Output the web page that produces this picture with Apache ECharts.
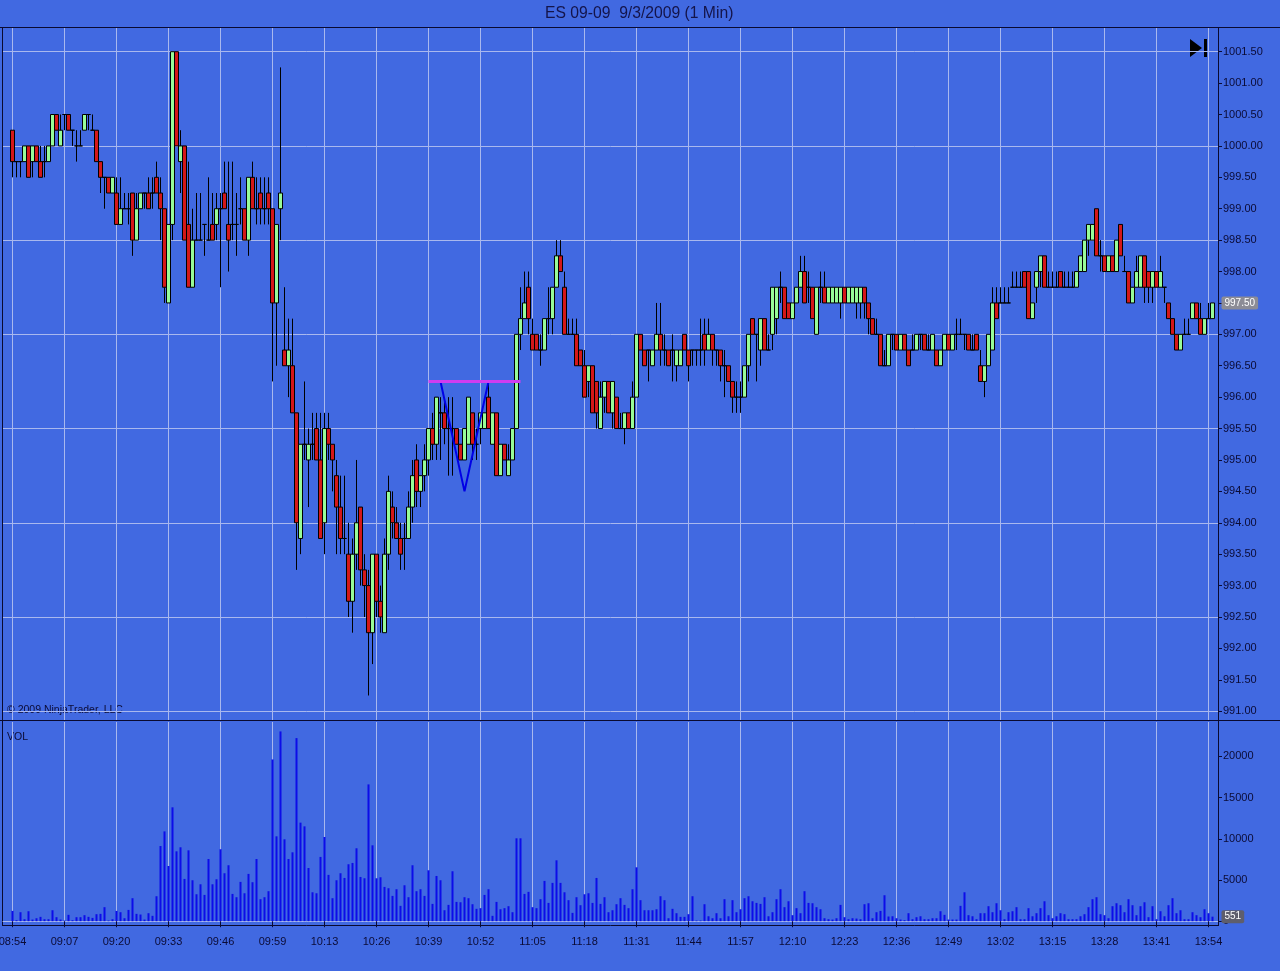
<!DOCTYPE html>
<html><head><meta charset="utf-8">
<script src="https://cdn.jsdelivr.net/npm/echarts/dist/echarts.min.js"></script>
<style>html,body{margin:0;padding:0;background:#4169E1}#c{width:1280px;height:971px}</style>
</head><body><div id="c"></div>
<script>
const titleText = 'ES 09-09  9/3/2009 (1 Min)';
const tickLabels = ['08:54','09:07','09:20','09:33','09:46','09:59','10:13','10:26','10:39','10:52','11:05','11:18','11:31','11:44','11:57','12:10','12:23','12:36','12:49','13:02','13:15','13:28','13:41','13:54'];
const opens = [
1000.25,999.75,999.75,999.75,1000,999.75,1000,999.75,999.75,999.75,
1000,1000.5,1000,1000.5,1000.5,1000.25,1000,1000,1000.25,1000.5,
1000.25,1000.25,999.75,999.5,999.5,999.25,999.25,998.75,999,999,
999.25,998.5,999,999.25,999.25,999.25,999.5,999.25,999,997.5,
998.75,1001.5,999.75,1000,998.75,997.75,998.5,998.5,998.75,998.5,
998.75,998.75,999,999.25,998.75,998.75,998.75,999,999,998.5,
999.5,999,999.25,999,999.25,999,997.5,999,996.75,996.5,
996.5,995.75,993.75,995.25,995,995.25,995.5,995,994,995.5,
995.25,994.75,994.25,993.75,993.5,992.75,993.5,994.25,993.25,993,
992.25,993.5,992.75,992.25,993.5,994.25,994,993.75,993.75,993.75,
994.25,995,994.5,994.75,995,995.5,995.25,995.75,995.75,995.5,
995.5,995.5,995.25,995,995.25,995.75,995.25,995.5,995.5,996,
995.25,995.75,994.75,995.25,994.75,995,995.5,997,997.25,997.75,
997,997,996.75,996.75,997.25,997.25,997.75,998.25,997.75,997,
997,997,996.75,996.5,996.25,996.5,996.25,995.5,996,996.25,
995.75,996,995.5,995.5,995.75,995.5,996,997,996.75,996.75,
996.5,996.75,997,996.75,996.75,996.75,996.5,996.5,997,996.75,
996.75,996.75,996.75,997,996.75,997,996.75,996.75,996.5,996.5,
996.25,996,996,996,996.5,997.25,997,996.75,997.25,996.75,
997,997.25,997.75,997.75,997.5,997.25,997.5,997.75,998,997.75,
997.75,997,997.75,997.75,997.5,997.5,997.5,997.5,997.75,997.5,
997.5,997.5,997.5,997.75,997.5,997.25,997,997,996.5,996.5,
997,997,996.75,997,996.75,996.75,996.75,997,997,996.75,
996.75,996.75,996.5,996.75,997,996.75,997,997,997,997,
996.75,997,996.5,996.25,996.5,996.75,997.5,997.5,997.5,997.5,
997.75,997.75,997.75,998,998,997.25,997.75,998,998.25,997.75,
997.75,997.75,998,997.75,997.75,997.75,997.75,998,998,998.5,
998.5,999,998.25,998.25,998,998.25,998,998.75,998,998,
997.5,997.75,997.75,998.25,998,997.75,998,997.75,997.75,997.5,
997.25,997,996.75,997,997,997.25,997.5,997.25,997,997.25,
997.25];
const highs = [
1000.25,999.75,999.75,1000,1000,1000,1000,1000,1000,1000,
1000.5,1000.5,1000.5,1000.5,1000.5,1000.25,1000.25,1000.25,1000.5,1000.5,
1000.5,1000.25,999.75,999.5,999.5,999.5,999.5,999.5,999.25,999.25,
999.25,999.25,999.25,999.25,999.5,999.5,999.75,999.5,999,998.75,
1001.5,1001.5,1000.25,1000,999.75,999,999.25,999.25,998.75,999.5,
999.25,999.25,999.25,999.75,999.75,999.75,999.25,999.5,999,999.5,
999.75,999.5,999.5,999.5,999.5,999,998.75,1001.25,997.75,997.25,
997.25,995.75,995.25,996.25,995.5,995.75,995.75,995.75,995.75,995.75,
995.25,995,994.75,994.75,994,993.75,995,994.25,993.5,993.25,
993.5,993.5,993,993.75,994.75,994.5,994.25,994,994,994.5,
995,995.25,994.75,995.25,995.5,995.75,996,996,996,996,
996,995.5,995.25,995.5,996,995.75,995.5,995.75,995.75,996.25,
995.75,995.75,995.25,995.25,995.25,995.5,997,997.75,998,998,
997.25,997,997,997.25,997.75,997.75,998.5,998.5,998,997.25,
997.25,997.25,996.75,996.75,996.5,996.5,996.25,996.25,996.25,996.25,
996.25,996,995.75,995.75,995.75,996.25,997,997,996.75,996.75,
996.75,997.5,997.5,997,996.75,997,996.75,996.75,997,996.75,
996.75,996.75,997.25,997.25,997.25,997,996.75,996.75,996.75,996.5,
996.25,996.25,996.25,996.5,997,997.25,997,997.25,997.25,997,
997.75,997.75,998,997.75,997.5,997.5,997.75,998.25,998.25,998,
997.75,997.75,998,998,997.75,997.75,997.75,997.75,997.75,997.75,
997.75,997.75,997.75,997.75,997.5,997.25,997.25,997,996.75,997,
997,997,997,997,996.75,997,997,997,997,997,
997,996.75,996.75,997,997,997,997.25,997.25,997,997,
997,997,996.75,996.5,997,997.75,997.75,997.75,997.75,997.75,
998,998,998,998,998,997.5,998,998.25,998.25,998,
998,998,998,998,998,998,998,998.25,998.5,998.75,
998.75,999,998.5,998.25,998.25,998.25,998.5,998.75,998.25,998,
997.75,998.25,998.25,998.25,998,998,998,998.25,997.75,997.5,
997.25,997,997,997.25,997.25,997.5,997.5,997.5,997.25,997.5,
997.5];
const lows = [
999.5,999.5,999.5,999.75,999.5,999.5,999.75,999.5,999.5,999.75,
1000,1000.25,1000,1000.25,1000.25,1000,999.75,1000,1000.25,1000.25,
1000.25,999.75,999.25,999,999.25,999.25,998.75,998.75,999,998.75,
998.25,998.5,999,999,999,999,999.25,998.5,997.5,997.5,
998.5,1000,999.25,998.5,997.75,997.75,998.5,998.5,998.25,998.5,
998.5,998.5,997.75,999,998,998.5,998.25,998.75,998.5,998.25,
999,998.75,998.75,998.75,998.75,996.25,996.5,998.5,996.5,996,
995.75,993.25,993.5,995,994.25,995,995,993.75,993.5,995,
994.5,993.5,993.5,993.5,992.5,992.25,993.25,993,992.5,991.25,
991.75,992.5,992.25,992.25,993.25,993.75,993.75,993.25,993.25,993.75,
994,994.25,994.25,994.5,994.75,995,995,995,995.25,994.75,
994.75,995.25,995,995,995.25,995,995,995.25,995.5,995.5,
995.25,994.75,994.75,995,994.75,995,995.5,996.75,997.25,997,
996.75,996.75,996.5,996.75,997,997,997.75,998,997,997,
997,996.5,996.5,996,996,995.75,995.5,995.5,995.75,995.75,
995.5,995.5,995.5,995.25,995.5,995.5,996,996.75,996.5,996.25,
996.5,996.75,996.5,996.5,996.5,996.25,996.25,996.5,996.75,996.25,
996.5,996.5,996.5,996.5,996.75,996.5,996.5,996.25,996,996.25,
995.75,995.75,995.75,996,996.25,997,996.25,996.5,996.75,996.75,
996.75,997,997.5,997.25,997.25,997.25,997.5,997.75,997.5,997.5,
997.25,997,997.5,997.5,997.5,997.5,997.5,997.25,997.5,997.5,
997.5,997.25,997.25,997.25,997,997,997,996.5,996.5,996.5,
996.75,996.75,996.75,996.75,996.5,996.75,996.75,996.75,996.75,996.75,
996.75,996.5,996.5,996.75,996.75,996.75,996.75,997,996.75,996.75,
996.75,996.75,996.25,996,996.5,996.75,997.25,997.5,997.5,997.5,
997.75,997.75,997.75,997.75,997.25,997.25,997.5,997.75,997.75,997.75,
997.75,997.75,997.75,997.75,997.75,997.75,997.75,998,998,998.25,
998.5,998.25,998,998,998,998,998,998.25,998,997.5,
997.5,997.75,997.75,997.5,997.5,997.5,997.75,997.75,997.5,997.25,
997,996.75,996.75,997,997,997.25,997.25,997,997,997.25,
997.25];
const closes = [
999.75,999.75,999.75,1000,999.5,1000,999.75,999.5,999.75,1000,
1000.5,1000.25,1000.25,1000.5,1000.25,1000.25,1000,1000,1000.5,1000.5,
1000.25,999.75,999.5,999.5,999.25,999.5,998.75,999,999,999,
998.5,999,999.25,999.25,999,999.25,999.25,999,997.75,998.75,
1001.5,1000,1000,998.5,997.75,998.5,998.5,998.5,998.75,998.5,
998.5,999,999,999,998.5,998.75,998.75,999,998.5,999.5,
999,999,999,999,999,997.5,998.75,999.25,996.5,996.75,
995.75,994,995.25,995.25,995.25,995.25,995,993.75,995.5,995.25,
995,994.25,993.75,993.75,992.75,993.5,994,993.25,993,992.25,
993.5,992.75,992.5,993.5,994.5,994,993.75,993.5,993.75,994.25,
994.75,994.5,994.75,995,995.5,995.25,996,995.75,995.5,995.5,
995.5,995.25,995,995.5,996,995.25,995.25,995.75,995.75,995.5,
995.75,994.75,995.25,995,995,995.5,997,997.25,997.5,997.25,
996.75,996.75,996.75,997.25,997.25,997.75,998.25,998,997,997,
997,996.5,996.5,996,996.5,995.75,995.75,996,996.25,995.75,
996.25,995.5,995.5,995.75,995.5,996,997,996.75,996.5,996.75,
996.75,997,996.75,996.75,996.5,996.75,996.75,996.75,996.75,996.5,
996.75,996.75,996.75,996.75,997,996.75,996.75,996.5,996.5,996.25,
996,996,996,996.5,997,997,997,997.25,996.75,996.75,
997.75,997.75,997.75,997.25,997.25,997.5,997.75,998,997.5,997.75,
997.25,997.75,997.75,997.5,997.75,997.75,997.75,997.75,997.5,997.75,
997.75,997.75,997.75,997.5,997.25,997,997,996.5,996.5,997,
997,996.75,997,996.75,996.5,996.75,997,997,996.75,996.75,
997,996.5,996.75,997,996.75,997,997,997,997,996.75,
996.75,996.75,996.25,996.5,997,997.5,997.25,997.5,997.5,997.5,
997.75,997.75,997.75,997.75,997.25,997.5,998,998.25,997.75,997.75,
997.75,997.75,997.75,997.75,997.75,997.75,998,998.25,998.5,998.75,
998.75,998.25,998.25,998,998.25,998,998.5,998.25,998,997.5,
997.75,998,998.25,997.75,997.75,998,997.75,998,997.75,997.25,
997,996.75,997,997,997,997.5,997.25,997,997.25,997.25,
997.5];
const volumes = [
1250,120,1090,240,1210,200,360,525,240,240,
1330,485,200,80,770,120,485,485,730,525,
400,850,890,1700,80,240,1250,1090,360,1370,
2790,890,810,200,970,650,3030,9130,10900,6700,
13820,8480,8970,5130,8600,4970,3270,4480,3190,7550,
4480,5090,8730,5820,6790,3310,2910,4770,3390,5740,
4730,7550,2670,2910,3640,19630,10300,23030,9940,7550,
8360,22220,11960,11510,6460,3510,3390,7800,10220,5620,
2790,4970,5820,5250,6910,7070,8850,5370,5210,16600,
9210,5210,5330,4160,4000,3070,3880,1860,4360,2910,
6790,3640,3880,3070,6180,2100,5490,4970,1330,1980,
6060,2340,2300,2910,2790,2060,1500,1580,3190,3880,
650,2340,1450,1580,1820,1090,10060,10060,3310,3560,
1700,1580,2670,4890,2220,4650,7390,4650,3510,2550,
1010,2910,1940,3270,3390,2220,5250,2100,2910,1090,
1330,2060,2790,1980,1580,3880,6540,2550,1330,1330,
1330,1450,3030,2550,360,1500,970,525,525,850,
3030,80,80,2060,600,360,970,360,2670,600,
2550,1090,1450,2790,3030,2420,2220,2100,2910,600,
1090,2670,3880,1700,2420,730,1580,970,3640,2220,
2180,1700,1450,360,240,200,360,1980,485,240,
360,320,240,2060,2180,360,1090,1250,3150,570,
600,360,200,120,970,240,485,600,240,240,
360,360,1210,770,200,200,200,1860,3510,730,
600,240,970,970,1820,1090,2180,1330,240,1090,
1210,1700,240,240,1580,600,970,1580,2420,730,
360,600,970,850,240,240,240,600,850,1700,
2670,2910,850,730,360,1820,2180,1940,1090,2670,
1940,730,1820,2300,485,1820,240,1210,600,1940,
2790,970,1330,240,240,1090,730,485,1450,970,
551];
// drawn annotations (bar index, price)
const patternBars = [107, 113, 119];
const patternPrices = [996.25, 994.5, 996.25];
const levelBars = [104, 127];
const levelPrice = 996.25;

const N = opens.length;
const cats = opens.map((_, i) => String(i));
const candleData = opens.map((o, i) => [o, closes[i], lows[i], highs[i]]);
const lastClose = closes[N - 1];
const lastVol = volumes[N - 1];

const FONT = '"Liberation Sans", Arial, sans-serif';
const TXT = '#0b0b35';
const GL = '#a9b8ee';
const PRICE_TOP = 51.7, PRICE_H = 659.5;
const VOL_TOP = 722, VOL_H = 199.2;
const NOB = {outerBoundsMode: 'none', containLabel: false};

const chart = echarts.init(document.getElementById('c'), null, {renderer: 'canvas', width: 1280, height: 971});
chart.setOption({
  backgroundColor: '#4169E1',
  animation: false,
  title: {text: titleText, left: 540, top: 1,
    textStyle: {fontFamily: FONT, fontSize: 15.7, fontWeight: 'normal', color: '#14144a'}},
  grid: [
    Object.assign({left: 3, right: 62, top: PRICE_TOP, height: PRICE_H}, NOB),
    Object.assign({left: 12.5, right: 67.5, top: 28, height: 692}, NOB),
    Object.assign({left: 10.5, right: 65.5, top: PRICE_TOP, height: PRICE_H}, NOB),
    Object.assign({left: 3, right: 62, top: VOL_TOP, height: VOL_H}, NOB),
    Object.assign({left: 12.5, right: 67.5, top: VOL_TOP, height: VOL_H}, NOB),
    Object.assign({left: 10.5, right: 65.5, top: VOL_TOP, height: VOL_H}, NOB)
  ],
  xAxis: [
    {gridIndex: 0, type: 'value', show: false, min: 0, max: 1},
    {gridIndex: 1, type: 'category', data: cats, boundaryGap: false,
      axisLine: {show: false}, axisTick: {show: false}, axisLabel: {show: false},
      splitLine: {show: true, interval: 12, lineStyle: {color: GL, width: 1}}},
    {gridIndex: 2, type: 'category', data: cats, boundaryGap: true, show: false},
    {gridIndex: 3, type: 'value', min: 0, max: 1,
      axisLine: {show: true, lineStyle: {color: GL}}, axisTick: {show: false}, axisLabel: {show: false}, splitLine: {show: false}},
    {gridIndex: 4, type: 'category', data: cats, boundaryGap: false, offset: 5,
      axisLine: {show: false},
      axisTick: {show: true, interval: 12, length: 6, lineStyle: {color: TXT}},
      axisLabel: {interval: 12, margin: 10, color: TXT, fontSize: 11, fontFamily: FONT,
        formatter: (v, i) => (i % 13 === 0 ? tickLabels[i / 13] : '')},
      splitLine: {show: true, interval: 12, lineStyle: {color: GL, width: 1}}},
    {gridIndex: 5, type: 'category', data: cats, boundaryGap: true, show: false}
  ],
  yAxis: [
    {gridIndex: 0, type: 'value', min: 991, max: 1001.5, interval: 1.5,
      axisLine: {show: false}, axisTick: {show: false}, axisLabel: {show: false},
      splitLine: {show: true, lineStyle: {color: GL, width: 1}}},
    {gridIndex: 1, type: 'value', show: false, min: 0, max: 1},
    {gridIndex: 2, type: 'value', position: 'right', offset: 3.5, min: 991, max: 1001.5, interval: 0.5,
      axisLine: {show: false}, axisTick: {show: true, length: 4, lineStyle: {color: TXT}},
      axisLabel: {margin: 5, color: TXT, fontSize: 11, fontFamily: FONT, formatter: v => v.toFixed(2)},
      splitLine: {show: false}},
    {gridIndex: 3, type: 'value', show: false, min: 0, max: 1},
    {gridIndex: 4, type: 'value', show: false, min: 0, max: 1},
    {gridIndex: 5, type: 'value', position: 'right', offset: 3.5, min: 0, max: 24175, interval: 5000,
      axisLine: {show: false}, axisTick: {show: true, length: 4, lineStyle: {color: TXT}},
      axisLabel: {margin: 5, color: TXT, fontSize: 11, fontFamily: FONT, showMaxLabel: false, formatter: v => String(v)},
      splitLine: {show: false}}
  ],
  series: [
    {type: 'candlestick', xAxisIndex: 2, yAxisIndex: 2, data: candleData, barWidth: 4,
      itemStyle: {color: '#98FB98', color0: '#D41818', borderColor: '#000', borderColor0: '#000', borderWidth: 1},
      markLine: {symbol: 'none', silent: true, lineStyle: {color: 'rgba(0,0,0,0)', width: 0},
        label: {show: true, position: 'end', distance: 7, formatter: () => lastClose.toFixed(2), color: '#ffffff',
          backgroundColor: '#8c8c96', padding: [2, 3, 1, 3], fontSize: 10, fontFamily: FONT, borderRadius: 2},
        data: [{yAxis: lastClose}]}},
    {type: 'line', xAxisIndex: 2, yAxisIndex: 2, z: 5, symbol: 'none',
      data: patternBars.map((b, i) => [b, patternPrices[i]]),
      lineStyle: {color: '#0000E6', width: 2}},
    {type: 'line', xAxisIndex: 2, yAxisIndex: 2, z: 5, symbol: 'none',
      data: levelBars.map(b => [b, levelPrice]),
      lineStyle: {color: '#D03CF0', width: 3}},
    {type: 'bar', xAxisIndex: 5, yAxisIndex: 5, data: volumes, barWidth: 2,
      itemStyle: {color: '#0C0CE8'},
      markLine: {symbol: 'none', silent: true, lineStyle: {color: 'rgba(0,0,0,0)', width: 0},
        label: {show: true, position: 'end', distance: 7, formatter: () => String(lastVol), color: '#ffffff',
          backgroundColor: '#5e5e6c', padding: [2, 3, 1, 3], fontSize: 10, fontFamily: FONT, borderRadius: 2},
        data: [{yAxis: lastVol}]}}
  ],
  graphic: [
    {type: 'line', shape: {x1: 0, y1: 27.5, x2: 1280, y2: 27.5}, style: {stroke: '#0a0a30', lineWidth: 1}},
    {type: 'line', shape: {x1: 0, y1: 720.5, x2: 1280, y2: 720.5}, style: {stroke: '#0a0a30', lineWidth: 1}},
    {type: 'line', shape: {x1: 2.5, y1: 28, x2: 2.5, y2: 926}, style: {stroke: '#0a0a30', lineWidth: 1}},
    {type: 'line', shape: {x1: 1218.5, y1: 28, x2: 1218.5, y2: 926}, style: {stroke: '#0a0a30', lineWidth: 1}},
    {type: 'line', shape: {x1: 2, y1: 925.5, x2: 1219, y2: 925.5}, style: {stroke: '#0a0a30', lineWidth: 1}},
    {type: 'text', left: 7, top: 705, style: {text: '© 2009 NinjaTrader, LLC', fill: TXT, font: '10.5px "Liberation Sans", Arial, sans-serif'}},
    {type: 'text', left: 7, top: 732, style: {text: 'VOL', fill: TXT, font: '10.5px "Liberation Sans", Arial, sans-serif'}},
    {type: 'polygon', shape: {points: [[1190, 39], [1190, 57], [1202, 48]]}, style: {fill: '#000'}},
    {type: 'rect', shape: {x: 1204, y: 39, width: 3, height: 18}, style: {fill: '#000'}}
  ]
});
</script></body></html>
